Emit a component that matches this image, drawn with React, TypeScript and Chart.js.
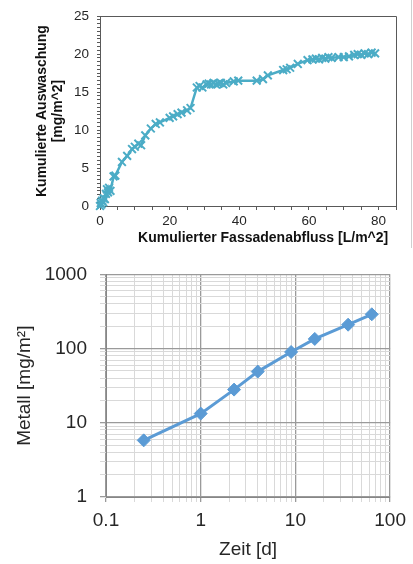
import React, { useEffect, useRef } from 'react';
import { Chart, registerables } from 'chart.js';

Chart.register(...registerables);

// ---------- top chart data ----------
const FLOW = [0, 0.2, 0.4, 0.6, 0.9, 1.1, 1.4, 1.7, 2.0, 2.3, 2.6, 3.0, 3.9, 4.4, 6.3, 7.8, 9.2, 10.0, 11.0, 11.8, 13.0, 14.6, 16.0, 17.2, 20.0, 21.0, 22.3, 23.4, 25.0, 26.0, 27.8, 28.6, 29.4, 30.6, 31.2, 31.9, 32.6, 33.3, 34.0, 34.7, 35.4, 36.2, 38.4, 39.7, 45.0, 46.8, 48.2, 52.6, 53.6, 54.6, 56.8, 59.6, 61.0, 62.0, 62.9, 63.8, 64.7, 65.6, 66.5, 68.5, 70.0, 71.5, 73.0, 74.0, 75.0, 76.0, 77.0, 78.0, 79.0];
const WASH = [0, 0.4, 0.2, 0.7, 0.5, 1.0, 0.9, 1.6, 2.2, 1.8, 2.4, 2.0, 3.9, 4.0, 5.8, 6.6, 7.5, 7.8, 8.2, 8.0, 9.3, 10.2, 10.8, 11.0, 11.6, 11.8, 12.1, 12.3, 12.6, 12.9, 15.6, 15.8, 15.6, 16.0, 16.1, 16.0, 16.2, 16.0, 16.1, 16.2, 16.0, 16.2, 16.4, 16.5, 16.5, 16.7, 17.2, 17.9, 18.0, 18.2, 18.7, 19.2, 19.3, 19.4, 19.3, 19.5, 19.4, 19.6, 19.5, 19.6, 19.6, 19.7, 19.9, 20.0, 19.9, 20.1, 20.0, 20.2, 20.1];
const TOP_X_TITLE = 'Kumulierter Fassadenabfluss [L/m^2]';
const TOP_Y_TITLE = ['Kumulierte Auswaschung', '[mg/m^2]'];

// ---------- bottom chart data ----------
const DAYS = [0.25, 1, 2.25, 4, 9, 16, 36, 64];
const METAL = [5.8, 13.3, 28, 49, 90, 135, 210, 290];
const LOG_X_TICKS = [0.1, 0.2, 0.3, 0.4, 0.5, 0.6, 0.7, 0.8, 0.9, 1, 2, 3, 4, 5, 6, 7, 8, 9, 10, 20, 30, 40, 50, 60, 70, 80, 90, 100];
const LOG_Y_TICKS = [1, 2, 3, 4, 5, 6, 7, 8, 9, 10, 20, 30, 40, 50, 60, 70, 80, 90, 100, 200, 300, 400, 500, 600, 700, 800, 900, 1000];
const BOTTOM_X_TITLE = 'Zeit [d]';
const BOTTOM_Y_TITLE = 'Metall [mg/m²]';

const FONT = 'Liberation Sans, Arial, sans-serif';
const TEAL = '#4BACC6';
const BLUE = '#5B9BD5';

const isPow10 = (v: number) => {
  const l = Math.log10(v);
  return Math.abs(l - Math.round(l)) < 1e-9;
};

const framePlugin = {
  id: 'frame',
  afterDraw(chart: any) {
    const { ctx, chartArea: a } = chart;
    ctx.save();
    ctx.strokeStyle = '#595959';
    ctx.lineWidth = 1;
    const t = Math.floor(a.top) + 0.5;
    const r = Math.floor(a.right) + 0.5;
    const b = Math.floor(a.bottom) + 0.5;
    ctx.beginPath();
    ctx.moveTo(a.left, t);
    ctx.lineTo(r, t);
    ctx.lineTo(r, b);
    ctx.stroke();
    ctx.restore();
  },
};

export default function App() {
  const topRef = useRef<HTMLCanvasElement>(null);
  const botRef = useRef<HTMLCanvasElement>(null);

  useEffect(() => {
    const top = new Chart(topRef.current as HTMLCanvasElement, {
      type: 'line',
      data: {
        datasets: [
          {
            data: FLOW.map((x, i) => ({ x, y: WASH[i] })),
            borderColor: TEAL,
            backgroundColor: TEAL,
            borderWidth: 2.5,
            pointStyle: 'crossRot',
            pointRadius: 5.5,
            pointBorderWidth: 2,
            pointBorderColor: TEAL,
            tension: 0,
            clip: false,
          } as any,
        ],
      },
      options: {
        responsive: false,
        animation: false,
        layout: { padding: { top: 15, right: 17, left: 0, bottom: 0 } },
        plugins: { legend: { display: false }, tooltip: { enabled: false } },
        scales: {
          x: {
            type: 'linear',
            min: 0,
            max: 85,
            afterFit: (s: any) => {
              s.height = 44;
            },
            ticks: {
              stepSize: 5,
              maxTicksLimit: 100,
              autoSkip: false,
              maxRotation: 0,
              padding: 3,
              color: '#262626',
              font: { family: FONT, size: 13.5 },
              callback: (v: any) => (Number(v) % 20 === 0 ? String(v) : ''),
            },
            grid: { drawOnChartArea: false, drawTicks: true, tickLength: 4, color: '#595959' },
            border: { color: '#595959', width: 1 },
            title: {
              display: true,
              text: TOP_X_TITLE + '  ',
              align: 'end',
              color: '#111',
              font: { family: FONT, size: 14, weight: 'bold' },
              padding: { top: 0, bottom: 3 },
            },
          },
          y: {
            type: 'linear',
            min: 0,
            max: 25,
            afterFit: (s: any) => {
              s.width = 100;
            },
            ticks: {
              stepSize: 0.5,
              maxTicksLimit: 100,
              autoSkip: false,
              padding: 8,
              color: '#262626',
              font: { family: FONT, size: 13.5 },
              callback: (v: any) => (Number(v) % 5 === 0 ? String(v) : ''),
            },
            grid: { drawOnChartArea: false, drawTicks: true, tickLength: 3, color: '#595959' },
            border: { color: '#595959', width: 1 },
            title: {
              display: true,
              text: TOP_Y_TITLE,
              color: '#111',
              font: { family: FONT, size: 14, weight: 'bold', lineHeight: 16 / 14 },
              padding: { top: 34, bottom: 0 },
            },
          },
        },
      } as any,
      plugins: [framePlugin],
    });

    const gridColor = (ctx: any) =>
      ctx.tick && isPow10(ctx.tick.value) ? '#9a9a9a' : '#d9d9d9';
    const gridWidth = (ctx: any) =>
      ctx.tick && isPow10(ctx.tick.value) ? 1.3 : 1;

    const bot = new Chart(botRef.current as HTMLCanvasElement, {
      type: 'line',
      data: {
        datasets: [
          {
            data: DAYS.map((x, i) => ({ x, y: METAL[i] })),
            borderColor: BLUE,
            backgroundColor: BLUE,
            borderWidth: 3,
            pointStyle: 'rectRot',
            pointRadius: 6.5,
            pointBorderWidth: 1,
            pointBackgroundColor: BLUE,
            pointBorderColor: BLUE,
            tension: 0,
            clip: false,
          } as any,
        ],
      },
      options: {
        responsive: false,
        animation: false,
        layout: { padding: { top: 23, right: 20, left: 0, bottom: 0 } },
        plugins: { legend: { display: false }, tooltip: { enabled: false } },
        scales: {
          x: {
            type: 'logarithmic',
            min: 0.1,
            max: 100,
            afterBuildTicks: (s: any) => {
              s.ticks = LOG_X_TICKS.map((v) => ({ value: v }));
            },
            afterFit: (s: any) => {
              s.height = 67;
            },
            ticks: {
              autoSkip: false,
              maxRotation: 0,
              padding: 7,
              color: '#262626',
              font: { family: FONT, size: 19 },
              callback: (v: any) => (isPow10(Number(v)) ? String(v) : ''),
            },
            grid: { color: gridColor, lineWidth: gridWidth, tickLength: 5 },
            border: { color: '#868686', width: 1 },
            title: {
              display: true,
              text: BOTTOM_X_TITLE,
              color: '#262626',
              font: { family: FONT, size: 19 },
              padding: { top: 0, bottom: 3 },
            },
          },
          y: {
            type: 'logarithmic',
            min: 1,
            max: 1000,
            afterBuildTicks: (s: any) => {
              s.ticks = LOG_Y_TICKS.map((v) => ({ value: v }));
            },
            afterFit: (s: any) => {
              s.width = 106;
            },
            ticks: {
              autoSkip: false,
              padding: 13,
              color: '#262626',
              font: { family: FONT, size: 19 },
              callback: (v: any) => (isPow10(Number(v)) ? String(v) : ''),
            },
            grid: { color: gridColor, lineWidth: gridWidth, tickLength: 6 },
            border: { color: '#868686', width: 1 },
            title: {
              display: true,
              text: BOTTOM_Y_TITLE,
              color: '#262626',
              font: { family: FONT, size: 19 },
              padding: { top: 13.6, bottom: 0 },
            },
          },
        },
      } as any,
    });

    return () => {
      top.destroy();
      bot.destroy();
    };
  }, []);

  return (
    <div style={{ position: 'absolute', left: 0, top: 0, width: 413, height: 564, background: '#fff', overflow: 'hidden' }}>
      <canvas ref={topRef} width={413} height={250} style={{ position: 'absolute', left: 0, top: 0, width: 413, height: 250 }} />
      <div style={{ position: 'absolute', left: 411, top: 0, width: 1, height: 248, background: '#cfcfcf' }} />
      <canvas ref={botRef} width={413} height={314} style={{ position: 'absolute', left: 0, top: 250, width: 413, height: 314 }} />
    </div>
  );
}
